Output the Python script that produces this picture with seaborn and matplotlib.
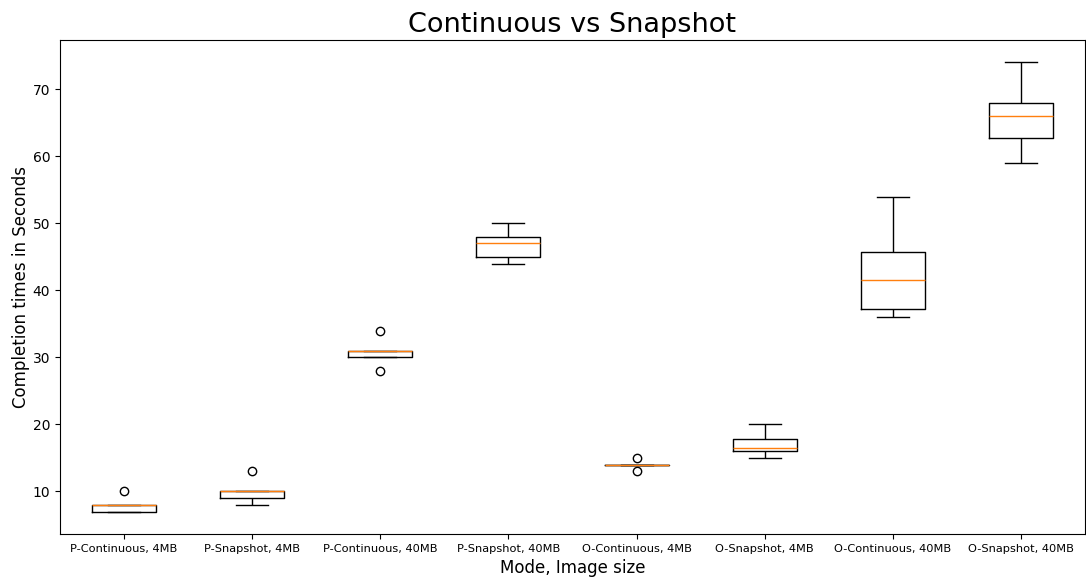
import matplotlib
matplotlib.use("Agg")
import matplotlib.pyplot as plt
import seaborn as sns
import pandas as pd

categories = ["P-Continuous, 4MB", "P-Snapshot, 4MB", "P-Continuous, 40MB", "P-Snapshot, 40MB",
              "O-Continuous, 4MB", "O-Snapshot, 4MB", "O-Continuous, 40MB", "O-Snapshot, 40MB"]

p_cont_4 = [7, 7, 7, 7, 8, 8, 8, 8, 8, 10]
p_snap_4 = [8, 9, 9, 9, 10, 10, 10, 10, 10, 13]
p_cont_40 = [28, 30, 30, 30, 31, 31, 31, 31, 31, 34]
p_snap_40 = [44, 45, 45, 46, 47, 48, 48, 49, 50]
o_cont_4 = [13, 14, 14, 14, 14, 14, 14, 14, 15]
o_snap_4 = [15, 16, 16, 16, 16, 17, 17, 18, 19, 20]
o_cont_40 = [36, 37, 37, 38, 41, 42, 45, 46, 50, 54]
o_snap_40 = [59, 61, 62, 65, 66, 66, 68, 68, 71, 74]

series = [p_cont_4, p_snap_4, p_cont_40, p_snap_40, o_cont_4, o_snap_4, o_cont_40, o_snap_40]

rows = []
for cat, vals in zip(categories, series):
    for v in vals:
        rows.append({"mode": cat, "time": v})
df = pd.DataFrame(rows)

fig = plt.figure(figsize=(10.86, 5.78), dpi=100)
ax = fig.add_axes([60/1086, 1 - 534/578, 1025/1086, 494/578])

sns.boxplot(data=df, x="mode", y="time", order=categories, ax=ax,
            fill=False, color="black", width=0.5, linewidth=1.0, whis=1.5,
            medianprops=dict(color="#ff7f0e", linewidth=1.0, zorder=5),
            flierprops=dict(marker="o", markerfacecolor="none", markeredgecolor="black",
                            markersize=6, markeredgewidth=1.0))

ax.set_ylim(3.65, 77.35)
ax.set_xlim(-0.5, 7.5)
ax.set_yticks([10, 20, 30, 40, 50, 60, 70])
ax.tick_params(axis="x", labelsize=8.2)
ax.tick_params(axis="y", labelsize=10)
ax.set_title("Continuous vs Snapshot", fontsize=19.5)
ax.set_xlabel("Mode, Image size", fontsize=12)
ax.set_ylabel("Completion times in Seconds", fontsize=12, labelpad=2)

fig.savefig("out.png", dpi=100)
